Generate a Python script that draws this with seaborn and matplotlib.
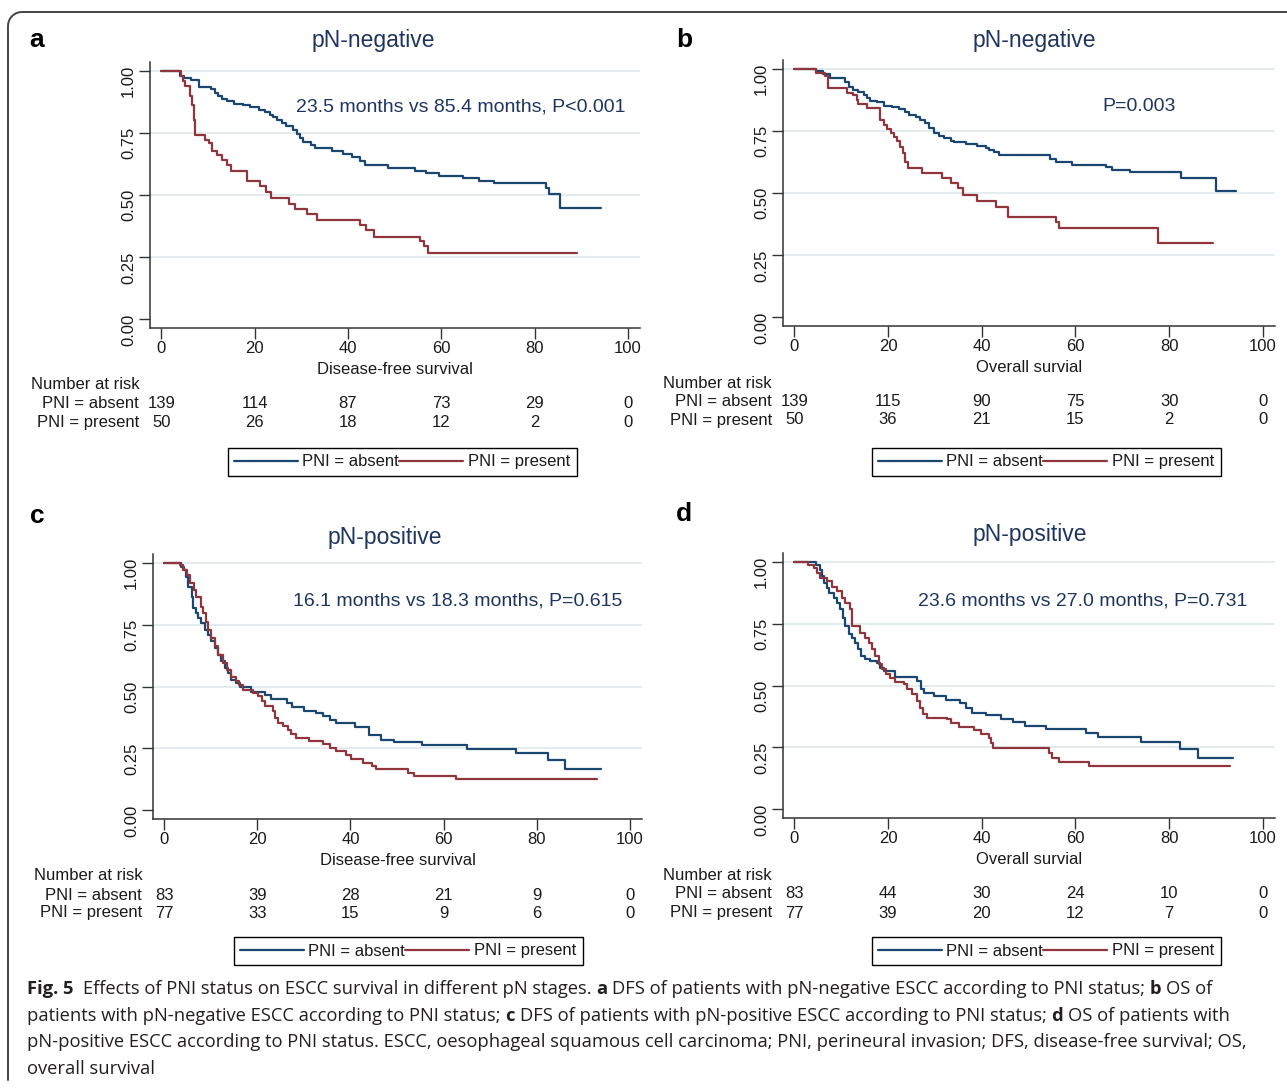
import numpy as np
import pandas as pd
import matplotlib
matplotlib.use("Agg")
import matplotlib.pyplot as plt
import matplotlib.transforms as mtransforms
from matplotlib.lines import Line2D
import seaborn as sns

# ---------------- data ----------------
groups = ["PNI = absent", "PNI = present"]
xticks = [0, 20, 40, 60, 80, 100]
yticks = [0.00, 0.25, 0.50, 0.75, 1.00]

# Panel a: pN-negative, DFS
a_abs_t = [0, 4.0, 4.8, 6.3, 8.0, 10.7, 11.5, 12.2, 13.0, 14.1, 15.5, 17.5, 19.0, 20.9, 22.3, 23.3, 24.0, 24.8,
           25.8, 26.8, 28.3, 29.0, 29.7, 30.3, 32.0, 33.0, 36.5, 39.0, 40.8, 42.6, 43.6, 48.6, 54.3, 56.8,
           59.6, 64.6, 68.2, 71.4, 82.4, 83.1, 85.4, 94.2]
a_abs_s = [1.0, 0.98, 0.972, 0.962, 0.936, 0.925, 0.91, 0.898, 0.888, 0.878, 0.868, 0.862, 0.855, 0.843, 0.833,
           0.823, 0.812, 0.80, 0.788, 0.778, 0.76, 0.745, 0.73, 0.712, 0.70, 0.688, 0.675, 0.665, 0.654, 0.636,
           0.62, 0.607, 0.597, 0.587, 0.578, 0.568, 0.557, 0.547, 0.527, 0.503, 0.447, 0.447]
a_pre_t = [0, 4.3, 4.7, 5.2, 6.2, 6.6, 7.0, 7.3, 9.3, 10.3, 10.9, 12.0, 13.0, 14.0, 14.9, 18.4, 21.2, 22.5, 23.5,
           27.3, 28.7, 31.2, 33.3, 42.7, 43.8, 45.6, 55.5, 56.4, 57.2, 89.2]
a_pre_s = [1.0, 0.98, 0.958, 0.94, 0.90, 0.862, 0.80, 0.742, 0.722, 0.708, 0.676, 0.66, 0.64, 0.62, 0.595, 0.555,
           0.535, 0.514, 0.488, 0.465, 0.445, 0.422, 0.40, 0.38, 0.36, 0.333, 0.313, 0.293, 0.265, 0.265]

# Panel b: pN-negative, OS
b_abs_t = [0, 4.6, 6.2, 7.6, 10.9, 11.6, 12.6, 13.7, 14.8, 15.6, 16.1, 17.6, 19.1, 20.9, 22.3, 23.7, 24.4, 25.9,
           26.9, 28.0, 28.7, 29.8, 30.9, 31.9, 33.4, 34.1, 36.6, 39.1, 40.9, 41.6, 42.6, 43.7, 54.6, 55.9, 59.3,
           66.6, 67.9, 71.6, 82.6, 90.0, 94.3]
b_abs_s = [1.0, 0.99, 0.977, 0.964, 0.948, 0.928, 0.914, 0.905, 0.894, 0.883, 0.871, 0.865, 0.851, 0.845, 0.836,
           0.827, 0.814, 0.804, 0.794, 0.78, 0.76, 0.74, 0.731, 0.72, 0.709, 0.704, 0.697, 0.69, 0.682, 0.673,
           0.663, 0.653, 0.637, 0.626, 0.613, 0.603, 0.592, 0.583, 0.559, 0.508, 0.508]
b_pre_t = [0, 4.7, 6.6, 7.3, 11.2, 12.6, 13.4, 13.7, 15.5, 18.4, 19.1, 19.8, 20.7, 21.2, 21.9, 22.5, 23.2, 23.6,
           24.3, 27.3, 31.6, 33.4, 34.9, 36.1, 39.0, 43.1, 45.6, 55.9, 56.6, 77.6, 89.4]
b_pre_s = [1.0, 0.981, 0.972, 0.921, 0.901, 0.894, 0.874, 0.857, 0.84, 0.794, 0.773, 0.757, 0.74, 0.727, 0.709,
           0.686, 0.66, 0.626, 0.602, 0.579, 0.559, 0.539, 0.519, 0.493, 0.468, 0.445, 0.403, 0.385, 0.358,
           0.298, 0.298]

# Panel c: pN-positive, DFS
c_abs_t = [0, 3.7, 4.2, 4.6, 5.1, 5.9, 6.2, 6.8, 7.3, 8.0, 8.7, 9.4, 10.1, 10.9, 11.6, 12.3, 13.0, 13.7, 14.4,
           15.4, 16.2, 18.7, 21.6, 23.0, 26.4, 27.5, 30.1, 32.6, 34.1, 35.5, 36.9, 41.0, 43.9, 46.6, 49.4, 55.4,
           65.0, 75.5, 82.4, 86.1, 93.7]
c_abs_s = [1.0, 0.984, 0.97, 0.944, 0.903, 0.863, 0.816, 0.796, 0.776, 0.756, 0.729, 0.709, 0.682, 0.655, 0.628,
           0.601, 0.574, 0.554, 0.528, 0.515, 0.50, 0.477, 0.464, 0.451, 0.434, 0.418, 0.40, 0.391, 0.38, 0.366,
           0.353, 0.337, 0.306, 0.286, 0.275, 0.262, 0.248, 0.232, 0.203, 0.168, 0.168]
c_pre_t = [0, 3.3, 4.1, 4.9, 5.6, 6.4, 6.9, 7.8, 8.4, 8.9, 9.4, 10.1, 10.9, 11.6, 12.6, 13.5, 14.4, 15.4, 16.1,
           16.9, 19.1, 20.1, 20.9, 21.6, 23.4, 23.9, 24.4, 25.5, 26.6, 27.3, 28.4, 31.2, 34.1, 35.5, 36.9, 39.0,
           40.1, 42.6, 44.6, 45.5, 52.3, 53.7, 62.6, 93.0]
c_pre_s = [1.0, 0.99, 0.97, 0.95, 0.917, 0.89, 0.863, 0.823, 0.796, 0.762, 0.729, 0.695, 0.662, 0.628, 0.594,
           0.567, 0.54, 0.524, 0.507, 0.487, 0.474, 0.46, 0.44, 0.42, 0.40, 0.373, 0.353, 0.34, 0.326, 0.309,
           0.292, 0.279, 0.266, 0.25, 0.239, 0.223, 0.209, 0.193, 0.179, 0.166, 0.152, 0.138, 0.125, 0.125]

# Panel d: pN-positive, OS
d_abs_t = [0, 4.6, 5.4, 5.9, 6.4, 6.9, 7.5, 8.4, 9.1, 9.8, 10.4, 10.9, 11.6, 12.3, 13.0, 13.7, 14.2, 15.1, 16.2,
           17.6, 18.2, 19.1, 21.4, 26.1, 27.1, 27.6, 29.8, 32.3, 35.3, 36.6, 38.0, 40.9, 44.1, 46.6, 49.3, 53.7,
           62.3, 64.8, 74.0, 82.3, 86.1, 93.7]
d_abs_s = [1.0, 0.988, 0.968, 0.941, 0.914, 0.894, 0.874, 0.854, 0.834, 0.807, 0.773, 0.74, 0.706, 0.693, 0.672,
           0.646, 0.619, 0.608, 0.599, 0.592, 0.572, 0.558, 0.535, 0.518, 0.484, 0.468, 0.457, 0.441, 0.43, 0.41,
           0.39, 0.379, 0.366, 0.352, 0.336, 0.323, 0.31, 0.292, 0.272, 0.243, 0.209, 0.209]
d_pre_t = [0, 3.0, 4.2, 4.9, 5.6, 6.9, 8.0, 9.1, 10.1, 10.9, 11.8, 12.3, 14.1, 15.1, 15.9, 16.6, 17.3, 18.0, 18.7,
           19.6, 20.5, 21.6, 23.4, 24.1, 25.1, 26.1, 26.8, 27.5, 28.4, 32.6, 33.4, 35.1, 38.4, 39.8, 41.6, 41.9,
           42.5, 54.4, 55.1, 56.6, 62.9, 93.0]
d_pre_s = [1.0, 0.988, 0.975, 0.954, 0.934, 0.921, 0.898, 0.881, 0.854, 0.834, 0.807, 0.74, 0.713, 0.693, 0.672,
           0.646, 0.619, 0.585, 0.566, 0.545, 0.532, 0.514, 0.505, 0.485, 0.465, 0.438, 0.41, 0.384, 0.37, 0.364,
           0.35, 0.334, 0.32, 0.303, 0.29, 0.267, 0.247, 0.227, 0.207, 0.193, 0.174, 0.174]

# Numbers at risk
a_risk_abs = [139, 114, 87, 73, 29, 0]
a_risk_pre = [50, 26, 18, 12, 2, 0]
b_risk_abs = [139, 115, 90, 75, 30, 0]
b_risk_pre = [50, 36, 21, 15, 2, 0]
c_risk_abs = [83, 39, 28, 21, 9, 0]
c_risk_pre = [77, 33, 15, 9, 6, 0]
d_risk_abs = [83, 44, 30, 24, 10, 0]
d_risk_pre = [77, 39, 20, 12, 7, 0]

panel_letters = ["a", "b", "c", "d"]
panel_titles = ["pN-negative", "pN-negative", "pN-positive", "pN-positive"]
panel_xlabels = ["Disease-free survival", "Overall survial", "Disease-free survival", "Overall survial"]
panel_notes = ["23.5 months vs 85.4 months, P<0.001", "P=0.003",
               "16.1 months vs 18.3 months, P=0.615", "23.6 months vs 27.0 months, P=0.731"]

caption_lines = [
    [("Fig. 5", True), ("  Effects of PNI status on ESCC survival in different pN stages. ", False), ("a", True),
     (" DFS of patients with pN-negative ESCC according to PNI status; ", False), ("b", True), (" OS of", False)],
    [("patients with pN-negative ESCC according to PNI status; ", False), ("c", True),
     (" DFS of patients with pN-positive ESCC according to PNI status; ", False), ("d", True),
     (" OS of patients with", False)],
    [("pN-positive ESCC according to PNI status. ESCC, oesophageal squamous cell carcinoma; PNI, perineural "
      "invasion; DFS, disease-free survival; OS,", False)],
    [("overall survival", False)],
]

# ---------------- style ----------------
sns.set_theme(style="white")
plt.rcParams["font.family"] = ["Liberation Sans", "DejaVu Sans"]

W, H = 1287, 1088
fig = plt.figure(figsize=(W / 100, H / 100), dpi=100)
fig.patch.set_facecolor("white")

BLUE = "#1a476f"
RED = "#90353b"
NAVY = "#1f3560"
TXT = "#1a1a1a"
GRID = "#e3ecef"
FS = 12


def fx(px):
    return px / W


def fy(py):
    return 1 - py / H


panels = [
    dict(t=(a_abs_t, a_pre_t), s=(a_abs_s, a_pre_s), risk=(a_risk_abs, a_risk_pre),
         box=(150, 62, 640, 328), title=(373, 40), letter=(37, 40), note=(28.9, 0.852), rows=(384, 403, 422),
         leg=(402, 462)),
    dict(t=(b_abs_t, b_pre_t), s=(b_abs_s, b_pre_s), risk=(b_risk_abs, b_risk_pre),
         box=(783, 60, 1275, 326), title=(1034, 40), letter=(684, 40), note=(65.7, 0.846), rows=(383, 401, 420),
         leg=(1046, 462)),
    dict(t=(c_abs_t, c_pre_t), s=(c_abs_s, c_pre_s), risk=(c_risk_abs, c_risk_pre),
         box=(153, 554, 642, 819), title=(385, 537), letter=(37, 516), note=(27.6, 0.845), rows=(876, 895, 913),
         leg=(408, 951)),
    dict(t=(d_abs_t, d_pre_t), s=(d_abs_s, d_pre_s), risk=(d_risk_abs, d_risk_pre),
         box=(783, 553, 1275, 818), title=(1030, 535), letter=(684, 514), note=(26.5, 0.843), rows=(875, 894, 913),
         leg=(1046, 951)),
]

for i, p in enumerate(panels):
    l, t, r, b = p["box"]
    ax = fig.add_axes([fx(l), fy(b), (r - l) / W, (b - t) / H])
    frames = []
    for g, tt, ss in zip(groups, p["t"], p["s"]):
        frames.append(pd.DataFrame({"time": tt, "surv": ss, "group": g}))
    df = pd.concat(frames, ignore_index=True)
    sns.lineplot(data=df, x="time", y="surv", hue="group", palette=[BLUE, RED], estimator=None,
                 sort=False, drawstyle="steps-post", linewidth=1.6, legend=False, ax=ax, zorder=3)
    ax.set_xlim(-2.4, 102.6)
    ax.set_ylim(-0.035, 1.035)
    for yv in yticks[1:]:
        ax.axhline(yv, color=GRID, lw=1.4, zorder=0)
    ax.set_xticks(xticks)
    ax.set_yticks(yticks)
    ax.set_yticklabels([f"{v:.2f}" for v in yticks])
    ax.tick_params(axis="both", direction="out", length=8, width=1.0, color="#333333",
                   labelsize=FS, labelcolor=TXT, bottom=True, left=True)
    ax.tick_params(axis="y", labelrotation=90, pad=2)
    ax.tick_params(axis="x", pad=1.5)
    for sp in ["top", "right"]:
        ax.spines[sp].set_visible(False)
    for sp in ["left", "bottom"]:
        ax.spines[sp].set_color("#333333")
        ax.spines[sp].set_linewidth(1.1)
    ax.set_xlabel(panel_xlabels[i], fontsize=FS, color=TXT, labelpad=4)
    ax.set_ylabel("")
    ax.set_facecolor("white")
    ax.text(p["note"][0], p["note"][1], panel_notes[i], fontsize=14, color=NAVY, ha="left", va="center")

    # titles and letters
    fig.text(fx(p["title"][0]), fy(p["title"][1]), panel_titles[i], fontsize=16.5, color=NAVY,
             ha="center", va="center")
    fig.text(fx(p["letter"][0]), fy(p["letter"][1]), panel_letters[i], fontsize=19, fontweight="bold",
             color="black", ha="center", va="center")

    # number at risk table
    tr = mtransforms.blended_transform_factory(ax.transData, fig.transFigure)
    y0, y1, y2 = p["rows"]
    ax.text(-28.0, fy(y0), "Number at risk", transform=tr, fontsize=FS, color=TXT, ha="left", va="center",
            clip_on=False)
    ax.text(-4.8, fy(y1), "PNI = absent", transform=tr, fontsize=FS, color=TXT, ha="right", va="center",
            clip_on=False)
    ax.text(-4.8, fy(y2), "PNI = present", transform=tr, fontsize=FS, color=TXT, ha="right", va="center",
            clip_on=False)
    for xv, n1, n2 in zip(xticks, p["risk"][0], p["risk"][1]):
        ax.text(xv, fy(y1), str(n1), transform=tr, fontsize=FS, color=TXT, ha="center", va="center",
                clip_on=False)
        ax.text(xv, fy(y2), str(n2), transform=tr, fontsize=FS, color=TXT, ha="center", va="center",
                clip_on=False)

    # legend
    handles = [Line2D([0], [0], color=BLUE, lw=1.6), Line2D([0], [0], color=RED, lw=1.6)]
    leg = fig.legend(handles, groups, ncol=2, loc="center",
                     bbox_to_anchor=(fx(p["leg"][0]), fy(p["leg"][1])), frameon=True, fancybox=False,
                     edgecolor="black", handlelength=3.8, handletextpad=0.3, columnspacing=0.0,
                     borderpad=0.4, borderaxespad=0, fontsize=FS, framealpha=1)
    leg.get_frame().set_linewidth(1.0)
    for txt in leg.get_texts():
        txt.set_color(TXT)

# ---------------- caption ----------------
cap_family = ["Liberation Sans Narrow", "Open Sans"]
renderer = fig.canvas.get_renderer()


def text_width(s, size, bold):
    t = fig.text(0, 0, s, fontsize=size, fontweight="bold" if bold else "normal", family=cap_family)
    w = t.get_window_extent(renderer).width
    t.remove()
    return w


def run_width(runs, size):
    sp = text_width("a a", size, False) - text_width("aa", size, False)
    total = 0.0
    for s, bold in runs:
        lead = len(s) - len(s.lstrip(" "))
        trail = len(s) - len(s.rstrip(" "))
        core = s.strip(" ")
        total += lead * sp + (text_width(core, size, bold) if core else 0) + trail * sp
    return total, sp


base = 12.0
w2, _ = run_width(caption_lines[1], base)
cap_size = base * (1230 - 27) / w2
cap_y = [989, 1016, 1042, 1069]
for line, yy in zip(caption_lines, cap_y):
    _, sp = run_width([("a", False)], cap_size)
    x = 27.0
    for s, bold in line:
        lead = len(s) - len(s.lstrip(" "))
        trail = len(s) - len(s.rstrip(" "))
        core = s.strip(" ")
        x += lead * sp
        if core:
            t = fig.text(fx(x), fy(yy), core, fontsize=cap_size, fontweight="bold" if bold else "normal",
                         family=cap_family, color="#231f20", ha="left", va="center")
            x += t.get_window_extent(renderer).width
        x += trail * sp

# ---------------- outer border ----------------
theta = np.linspace(np.pi, np.pi / 2, 12)
rad = 14
cx, cy = 8 + rad, 12 + rad
arc_x = cx + rad * np.cos(theta)
arc_y = cy - rad * np.sin(theta)
bx = np.concatenate([[8], arc_x, [1300]])
by = np.concatenate([[1080], arc_y, [12]])
fig.add_artist(Line2D(bx / W, 1 - by / H, color="#444444", lw=1.4, transform=fig.transFigure))

fig.savefig("out.png", dpi=100, facecolor="white")
